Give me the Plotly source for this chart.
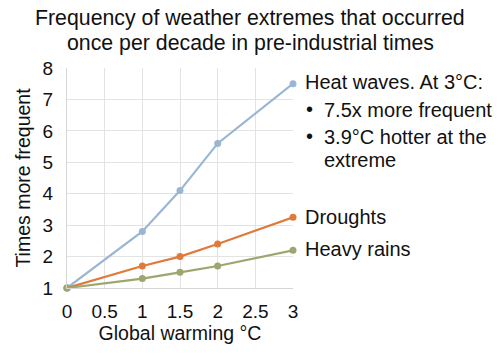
import plotly.graph_objects as go

warming = [0, 1, 1.5, 2, 3]
heat_waves = [1, 2.8, 4.1, 5.6, 7.5]
droughts = [1, 1.7, 2.0, 2.4, 3.25]
heavy_rains = [1, 1.3, 1.5, 1.7, 2.2]

x_ticks = [0, 0.5, 1, 1.5, 2, 2.5, 3]
x_tick_labels = ["0", "0.5", "1", "1.5", "2", "2.5", "3"]
y_ticks = [1, 2, 3, 4, 5, 6, 7, 8]

series = [
    ("Heat waves", heat_waves, "#9ab6d3"),
    ("Droughts", droughts, "#e07a3b"),
    ("Heavy rains", heavy_rains, "#9ea66f"),
]

FONT = "Liberation Sans, Arial, sans-serif"
TXT = "#111111"

fig = go.Figure()
for name, vals, col in series:
    fig.add_trace(go.Scatter(
        x=warming, y=vals, mode="lines+markers", name=name,
        line=dict(color=col, width=2.2),
        marker=dict(color=col, size=7),
        cliponaxis=False,
    ))

# (y value, text, x shift, y shift)
labels = [
    (heat_waves[-1], "Heat waves. At 3°C:", 10, 2),
    (heat_waves[-1], "•", 11, -25),
    (heat_waves[-1], "7.5x more frequent", 29, -26),
    (heat_waves[-1], "•", 11, -52),
    (heat_waves[-1], "3.9°C hotter at the", 29, -53),
    (heat_waves[-1], "extreme", 29, -76),
    (droughts[-1], "Droughts", 10, 0),
    (heavy_rains[-1], "Heavy rains", 10, 1),
]
annotations = []
for yv, txt, dx, dy in labels:
    annotations.append(dict(
        x=3, y=yv, xref="x", yref="y", text=txt, showarrow=False,
        xanchor="left", yanchor="middle", xshift=dx, yshift=dy,
        font=dict(size=20, color=TXT, family=FONT),
    ))

title_lines = ["Frequency of weather extremes that occurred",
               "once per decade in pre-industrial times"]
for i, t in enumerate(title_lines):
    annotations.append(dict(
        x=0.5, y=355 - 18 - 25 * i, xref="paper", yref="paper", text=t,
        showarrow=False, xanchor="center", yanchor="middle",
        font=dict(size=21.3, color=TXT, family=FONT),
    ))
# convert pixel y to paper coordinates
plot_h = 355 - 68 - 67
for a in annotations[-2:]:
    a["y"] = (a["y"] - 67) / plot_h
    a["x"] = (250 - 67) / (500 - 67 - 207)

fig.update_layout(
    width=500, height=355,
    margin=dict(l=67, r=207, t=68, b=67, autoexpand=False),
    paper_bgcolor="white", plot_bgcolor="white",
    showlegend=False,
    font=dict(family=FONT, size=19, color=TXT),
    annotations=annotations,
    xaxis=dict(
        range=[0, 3], tickvals=x_ticks, ticktext=x_tick_labels,
        showgrid=True, gridcolor="#e3e3e3", gridwidth=1,
        showline=True, linecolor="#d6d6d6", linewidth=1,
        zeroline=False, ticks="", ticklen=0, automargin=False,
        ticklabelstandoff=6,
        tickfont=dict(size=19, family=FONT, color=TXT),
        title=dict(text="Global warming °C", standoff=4,
                   font=dict(size=19.5, family=FONT, color=TXT)),
    ),
    yaxis=dict(
        range=[1, 8], tickvals=y_ticks,
        showgrid=True, gridcolor="#e3e3e3", gridwidth=1,
        showline=True, linecolor="#d6d6d6", linewidth=1,
        zeroline=False, ticks="", ticklen=0, automargin=False,
        ticklabelstandoff=9,
        tickfont=dict(size=19, family=FONT, color=TXT),
        title=dict(text="Times more frequent", standoff=6,
                   font=dict(size=19.5, family=FONT, color=TXT)),
    ),
)

fig.write_html(
    "out.html",
    config={"displayModeBar": False},
    post_script="document.body.style.margin='0';document.body.style.overflow='hidden';",
)
